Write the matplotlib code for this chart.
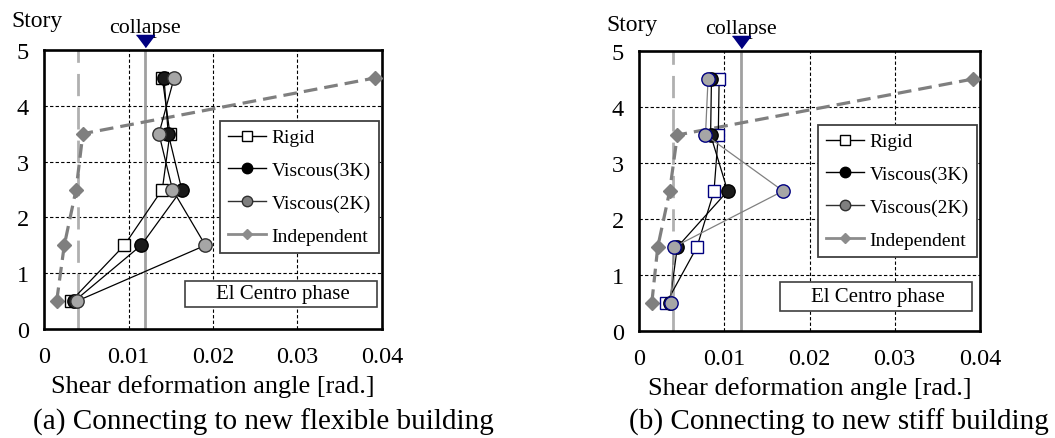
import matplotlib
matplotlib.use("Agg")
import matplotlib.pyplot as plt
from matplotlib.lines import Line2D
from matplotlib.patches import Rectangle
import matplotlib.transforms as mtransforms

plt.rcParams['font.family'] = ['Liberation Serif', 'DejaVu Serif']

# Story mid-heights
stories = [0.5, 1.5, 2.5, 3.5, 4.5]

# (a) connected to new flexible building
rigid_a = [0.0032, 0.0095, 0.0140, 0.0149, 0.0140]
visc3k_a = [0.0036, 0.0115, 0.0163, 0.0147, 0.0142]
visc2k_a = [0.0039, 0.0191, 0.0152, 0.0136, 0.0154]
indep_a = [0.0015, 0.0024, 0.0038, 0.0046, 0.0392]

# (b) connected to new stiff building
rigid_b = [0.0032, 0.0068, 0.0088, 0.0093, 0.0094]
visc3k_b = [0.0036, 0.0045, 0.0104, 0.0084, 0.0085]
visc2k_b = [0.0037, 0.0041, 0.0169, 0.0078, 0.0081]
indep_b = [0.0015, 0.0022, 0.0036, 0.0045, 0.0392]

collapse_angle = 0.012
ref_angle = 0.004

x_ticks = [0, 0.01, 0.02, 0.03, 0.04]
x_ticklabels = ["0", "0.01", "0.02", "0.03", "0.04"]
y_ticks = [0, 1, 2, 3, 4, 5]
series_labels = ["Rigid", "Viscous(3K)", "Viscous(2K)", "Independent"]
wave_label = "El Centro phase"
captions = ["(a) Connecting to new flexible building",
            "(b) Connecting to new stiff building"]

W, H = 1055, 439
fig = plt.figure(figsize=(W / 100, H / 100), dpi=100)

NAVY = "#000080"
GRAY_FILL = "#A6A6A6"
IND_GRAY = "#7F7F7F"


def px_box(x0, y0, x1, y1):
    return [x0 / W, 1 - y1 / H, (x1 - x0) / W, (y1 - y0) / H]


def draw_panel(ax, rigid, v3k, v2k, indep, stiff):
    ax.set_xlim(0, 0.04)
    ax.set_ylim(0, 5)
    ax.set_xticks(x_ticks)
    ax.set_xticklabels(x_ticklabels)
    ax.set_yticks(y_ticks)
    ax.tick_params(length=0, labelsize=17.5)
    ax.tick_params(axis='x', pad=12)
    ax.tick_params(axis='y', pad=11)
    for s in ax.spines.values():
        s.set_linewidth(1.9)
        s.set_color("black")
    for xv in [0.01, 0.02, 0.03]:
        ax.axvline(xv, color="black", lw=0.8, ls=(0, (3, 2)), zorder=1)
    for yv in [1, 2, 3, 4]:
        ax.axhline(yv, color="black", lw=0.8, ls=(0, (3, 2)), zorder=1)

    # reference lines
    ax.axvline(ref_angle, color="#B0B0B0", lw=2.0, ls=(0, (8, 4)), zorder=2)
    ax.axvline(collapse_angle, color="#A0A0A0", lw=2.0, zorder=2)

    # collapse marker and label above the frame
    off = mtransforms.offset_copy(ax.transData, fig=fig, y=6.2, units='points')
    tri = [(-1, 0.67), (1, 0.67), (0, -0.67)]
    ax.plot([collapse_angle], [5], marker=tri, ms=13, color=NAVY, ls="none",
            transform=off, clip_on=False, zorder=6)
    ax.text(collapse_angle, 5.41, "collapse", ha="center", va="center",
            fontsize=15.8)

    # independent response
    ax.plot(indep, stories, color=IND_GRAY, lw=2.3, ls=(0, (4.3, 2.2)),
            marker="D", ms=7.3, mfc=IND_GRAY, mec=IND_GRAY, zorder=3)

    sq_edge = NAVY if stiff else "black"
    c2_edge = NAVY if stiff else "#303030"
    c2_line = "#808080" if stiff else "black"
    ax.plot(rigid, stories, color="black", lw=0.9, marker="s", ms=8.8,
            mfc="white", mec=sq_edge, mew=1.0, zorder=4)
    ax.plot(v3k, stories, color="black", lw=0.9, marker="o", ms=9.6,
            mfc="#1A1A1A", mec="black", mew=1.0, zorder=5)
    ax.plot(v2k, stories, color=c2_line, lw=0.9, marker="o", ms=9.6,
            mfc=GRAY_FILL, mec=c2_edge, mew=1.0, zorder=6)

    handles = [
        Line2D([], [], color="black", lw=1.0, marker="s", ms=7, mfc="white",
               mec="black", mew=1.0),
        Line2D([], [], color="black", lw=1.0, marker="o", ms=7.5,
               mfc="black", mec="black"),
        Line2D([], [], color="#303030", lw=1.0, marker="o", ms=7.5,
               mfc="#7F7F7F", mec="#303030", mew=1.0),
        Line2D([], [], color="#8C8C8C", lw=2.0, marker="D", ms=5,
               mfc="#8C8C8C", mec="#8C8C8C"),
    ]
    return handles


# panel (a)
ax1 = fig.add_axes(px_box(44, 51, 382, 330))
h1 = draw_panel(ax1, rigid_a, visc3k_a, visc2k_a, indep_a, stiff=False)
# panel (b)
ax2 = fig.add_axes(px_box(639, 52, 980, 332))
h2 = draw_panel(ax2, rigid_b, visc3k_b, visc2k_b, indep_b, stiff=True)

legend_anchor = {ax1: (0.521, 0.7455), ax2: (0.525, 0.7357)}
wave_box = {ax1: (0.417, 0.079, 0.985, 0.172), ax2: (0.4135, 0.0714, 0.9765, 0.175)}

for ax, hs in [(ax1, h1), (ax2, h2)]:
    leg = ax.legend(hs, series_labels, loc="upper left",
                    bbox_to_anchor=legend_anchor[ax], borderaxespad=0,
                    fontsize=14, fancybox=False, framealpha=1,
                    edgecolor="#404040", handlelength=1.95, handletextpad=0.3,
                    labelspacing=0.78, borderpad=0.4)
    leg.get_frame().set_linewidth(1.3)
    leg.set_zorder(10)
    x0, y0, x1, y1 = wave_box[ax]
    ax.add_patch(Rectangle((x0, y0), x1 - x0, y1 - y0, transform=ax.transAxes,
                           facecolor="white", edgecolor="#404040", lw=1.2,
                           zorder=9))
    ax.text((x0 + x1) / 2 + 0.005, (y0 + y1) / 2, wave_label,
            transform=ax.transAxes, ha="center", va="center", fontsize=15,
            zorder=11)
    ax.set_xlabel("Shear deformation angle [rad.]", fontsize=19, labelpad=5)

fig.text(37 / W, 1 - 21 / H, "Story", ha="center", va="center", fontsize=17)
fig.text(632 / W, 1 - 25 / H, "Story", ha="center", va="center", fontsize=17)
fig.text(263 / W, 1 - 422 / H, captions[0], ha="center", va="center",
         fontsize=21)
fig.text(839 / W, 1 - 422 / H, captions[1], ha="center", va="center",
         fontsize=21)

fig.savefig("out.png", dpi=100)
